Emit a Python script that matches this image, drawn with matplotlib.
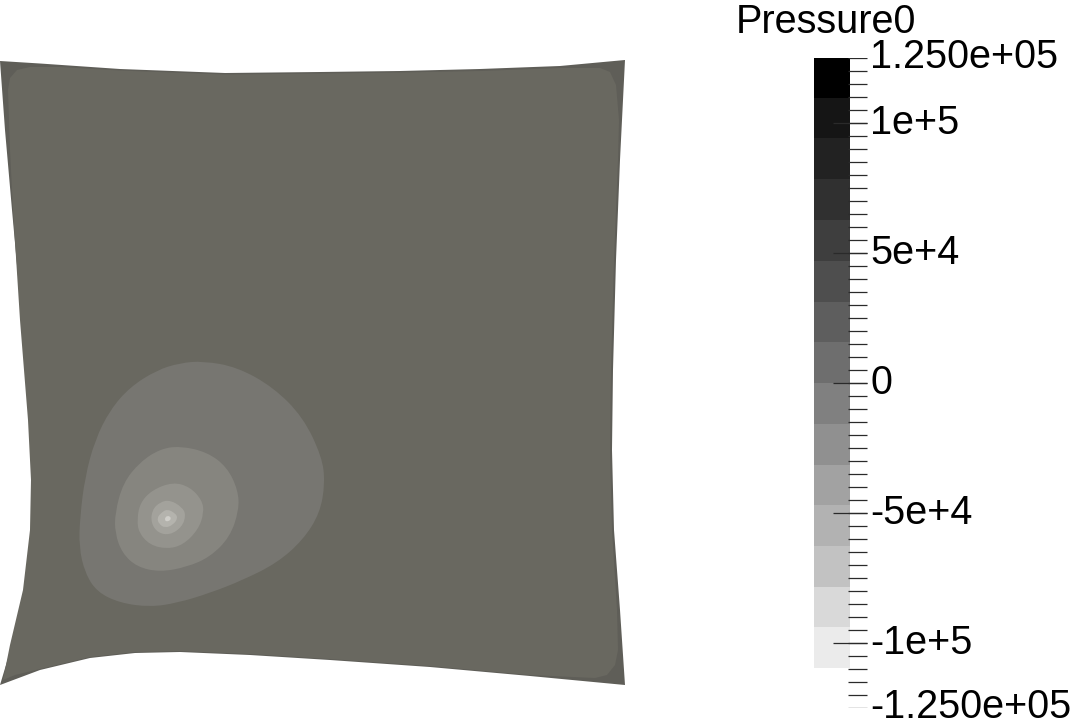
import numpy as np
import matplotlib
matplotlib.use("Agg")
import matplotlib.pyplot as plt
from matplotlib.patches import PathPatch, Polygon
from matplotlib.path import Path

# scalar bar
band_edges = [125000, 109400, 94000, 78300, 62500, 46700, 31000, 15600, -200,
              -16000, -31700, -47100, -62900, -78700, -94000, -109800]
band_greys = [0x00, 0x15, 0x22, 0x30, 0x3e, 0x4e, 0x5e, 0x6e, 0x80,
              0x90, 0xa2, 0xb2, 0xc2, 0xd9, 0xeb]
minor_ticks = list(range(-125000, 125001, 5000))
major_ticks = [100000, 50000, 0, -50000, -100000]
tick_values = [125000, 100000, 50000, 0, -50000, -100000, -125000]
tick_labels = ["1.250e+05", "1e+5", "5e+4", "0", "-5e+4", "-1e+5", "-1.250e+05"]
bar_title = "Pressure0"

# mesh outline and the pressure contours, read in image pixels
mesh_x = [0, 5, 12, 22, 30, 33, 32, 25, 12, 0, 40, 90, 135, 180, 250, 330, 430, 530, 625,
          620, 614, 612, 613, 616, 620, 625, 560, 480, 400, 320, 225, 120, 40]
mesh_y = [61, 130, 210, 320, 420, 480, 530, 590, 645, 685, 670, 658, 653, 652, 655, 660, 667, 676, 685,
          610, 530, 450, 370, 260, 160, 60, 66, 69, 71, 72, 73, 69, 63.5]
inner_x = [8, 10, 17, 30, 60, 120, 225, 320, 400, 480, 560, 600, 610, 616, 619, 618, 614, 611, 610, 612,
           617, 618, 615, 607, 595, 530, 430, 330, 250, 180, 135, 90, 40, 15, 3, 10, 23, 30, 31, 28, 20, 13, 10]
inner_y = [90, 78, 70, 67, 67, 70.5, 74.5, 73.5, 72.5, 71, 68, 68, 72, 85, 120, 160, 260, 370, 450, 530,
           610, 650, 665, 675, 678, 675, 666, 659, 654, 651, 652, 657, 669, 675, 680, 645, 590, 530, 480, 420, 320, 210, 150]

blob1_x = [203, 237, 273, 303, 322, 325, 320, 303, 277, 243, 210, 177, 150, 120, 97, 85, 79, 80, 85, 95, 110, 130, 157, 180]
blob1_y = [361, 367, 387, 417, 457, 483, 513, 540, 563, 580, 593, 603, 607, 603, 592, 573, 547, 517, 477, 440, 410, 387, 370, 363]
blob2_x = [180, 207, 227, 238, 239, 230, 210, 187, 160, 137, 122, 115, 115, 123, 140, 160]
blob2_y = [446, 452, 467, 490, 510, 537, 557, 567, 572, 567, 553, 533, 513, 483, 462, 449]
blob3_x = [173, 190, 202, 204, 198, 183, 167, 150, 139, 137, 140, 152]
blob3_y = [482, 487, 500, 513, 530, 545, 549, 545, 533, 520, 503, 490]
blob4_x = [170, 182, 186, 182, 170, 158, 151, 152, 160]
blob4_y = [500, 507, 515, 527, 535, 533, 523, 510, 502]
blob5_x = [167, 175, 178, 173, 165, 159, 157, 161]
blob5_y = [509, 513, 518, 525, 528, 524, 518, 513]
core_x = [167, 172, 168, 164]
core_y = [515, 518, 522, 520]

blobs = [(blob1_x, blob1_y, "#777671"), (blob2_x, blob2_y, "#86857f"),
         (blob3_x, blob3_y, "#94938d"), (blob4_x, blob4_y, "#a3a29c"),
         (blob5_x, blob5_y, "#b4b3ad"), (core_x, core_y, "#d0cfca")]


def smooth_closed(xs, ys):
    # quadratic segments through the midpoints of the read points
    pts = np.column_stack([xs, ys])
    mids = (pts + np.roll(pts, -1, axis=0)) / 2
    verts = [mids[-1]]
    codes = [Path.MOVETO]
    for p, m in zip(pts, mids):
        verts += [p, m]
        codes += [Path.CURVE3, Path.CURVE3]
    return Path(verts, codes)


plt.rcParams['font.family'] = ['Liberation Sans', 'DejaVu Sans']
fig = plt.figure(figsize=(10.74, 7.24), dpi=100)

# mesh panel, axes units are image pixels
ax = fig.add_axes([0, 0, 1, 1])
ax.set_xlim(0, 1074)
ax.set_ylim(724, 0)
ax.axis("off")
ax.add_patch(Polygon(np.column_stack([mesh_x, mesh_y]), closed=True, fc="#5f5e58", ec="none"))
ax.add_patch(Polygon(np.column_stack([inner_x, inner_y]), closed=True, fc="#696860", ec="none"))
for bx, by, col in blobs:
    ax.add_patch(PathPatch(smooth_closed(bx, by), fc=col, ec="none"))

# scalar bar panel, y is the pressure value
top, bottom = 57.5, 707.5
cax = fig.add_axes([814 / 1074, 1 - bottom / 724, 260 / 1074, (bottom - top) / 724])
cax.patch.set_alpha(0)
cax.set_xlim(814, 1074)
cax.set_ylim(-125000, 125000)
cax.axis("off")
for i, g in enumerate(band_greys):
    cax.bar(814, band_edges[i + 1] - band_edges[i], width=36, bottom=band_edges[i], align="edge",
            color=(g / 255, g / 255, g / 255), lw=0)
cax.hlines(minor_ticks, 848, 867, color="#2a2a2a", lw=0.9)
cax.hlines(major_ticks, 833, 867, color="#2a2a2a", lw=0.9)
for v, lab in zip(tick_values, tick_labels):
    cax.text(870, v, lab, fontsize=28.5, color="black", va="center", ha="left", clip_on=False)

ax.text(736, 33, bar_title, fontsize=28.5, color="black", va="baseline", ha="left")

fig.savefig("out.png", dpi=100)
